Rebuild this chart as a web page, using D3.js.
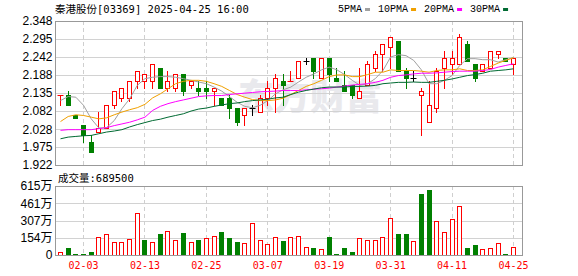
<!DOCTYPE html>
<html>
<head>
<meta charset="utf-8">
<script src="https://cdn.jsdelivr.net/npm/d3@7"></script>
<style>
body { margin: 0; background: #fff; }
svg { display: block; }
.grid { stroke: #d2d2d2; shape-rendering: crispEdges; }
.vgrid { stroke: #cfcfcf; stroke-dasharray: 4,3; shape-rendering: crispEdges; }
.frame { fill: none; stroke: #999; shape-rendering: crispEdges; }
.ma { fill: none; stroke-width: 1; }
</style>
</head>
<body>
<div class="container"></div>
<script>
var dates = ['01-24','01-27','01-28','02-03','02-04','02-05','02-06','02-07','02-10','02-11',
	'02-12','02-13','02-14','02-17','02-18','02-19','02-20','02-21','02-24','02-25',
	'02-26','02-27','02-28','03-03','03-04','03-05','03-06','03-07','03-10','03-11',
	'03-12','03-13','03-14','03-17','03-18','03-19','03-20','03-21','03-24','03-25',
	'03-26','03-27','03-28','03-31','04-01','04-02','04-03','04-07','04-08','04-09',
	'04-10','04-11','04-14','04-15','04-16','04-17','04-22','04-23','04-24','04-25'];

var open = [2.13,2.13,2.07,2.04,1.99,2.02,2.03,2.10,2.12,2.12,
	2.17,2.17,2.17,2.21,2.15,2.15,2.19,2.16,2.15,2.15,
	2.14,2.12,2.12,2.09,2.07,2.09,2.08,2.12,2.15,2.17,
	2.17,2.18,2.23,2.24,2.18,2.24,2.18,2.16,2.16,2.12,
	2.16,2.21,2.25,2.27,2.29,2.20,2.18,2.13,2.05,2.09,
	2.21,2.22,2.22,2.28,2.22,2.20,2.21,2.25,2.24,2.22];
var high = [2.13,2.14,2.07,2.04,2.01,2.08,2.10,2.14,2.15,2.17,
	2.20,2.19,2.22,2.21,2.20,2.19,2.19,2.17,2.17,2.17,
	2.15,2.12,2.13,2.09,2.09,2.10,2.13,2.17,2.19,2.19,
	2.20,2.23,2.24,2.24,2.24,2.24,2.21,2.20,2.16,2.21,
	2.23,2.26,2.28,2.30,2.29,2.21,2.20,2.15,2.17,2.21,
	2.26,2.26,2.31,2.29,2.22,2.22,2.26,2.26,2.24,2.24];
var low = [2.10,2.10,2.06,1.99,1.96,2.02,2.03,2.09,2.11,2.11,
	2.15,2.15,2.15,2.15,2.14,2.14,2.13,2.15,2.13,2.12,
	2.10,2.10,2.06,2.04,2.04,2.07,2.08,2.10,2.08,2.10,
	2.17,2.18,2.22,2.18,2.18,2.17,2.17,2.14,2.12,2.12,
	2.16,2.20,2.20,2.21,2.20,2.15,2.17,2.01,2.05,2.08,
	2.15,2.19,2.22,2.23,2.17,2.20,2.21,2.24,2.23,2.19];
var close = [2.13,2.10,2.06,2.01,1.96,2.03,2.10,2.14,2.15,2.17,
	2.20,2.19,2.22,2.15,2.17,2.19,2.14,2.17,2.14,2.14,
	2.15,2.10,2.09,2.05,2.09,2.09,2.12,2.15,2.18,2.16,
	2.17,2.23,2.23,2.20,2.24,2.19,2.17,2.14,2.13,2.14,
	2.22,2.25,2.28,2.30,2.20,2.18,2.18,2.14,2.10,2.20,
	2.24,2.24,2.30,2.23,2.18,2.22,2.26,2.26,2.23,2.24];
var volume = [280000,630000,90000,90000,300000,1590000,1860000,1170000,1170000,1410000,
	3780000,1350000,1170000,1890000,2130000,1350000,1980000,1170000,1350000,1530000,
	1710000,2070000,1530000,1170000,1080000,2880000,1350000,990000,1620000,1260000,
	1620000,1710000,720000,630000,540000,1620000,90000,630000,270000,1500000,
	1350000,1350000,1620000,3300000,1890000,1890000,1260000,5400000,5760000,3060000,
	2070000,3240000,4410000,630000,900000,540000,630000,1080000,90000,689500];

var ma5 = [2.114,2.126,2.124,2.100,2.060,2.033,2.034,2.055,2.090,2.119,
	2.159,2.179,2.183,2.185,2.185,2.183,2.179,2.174,2.169,2.164,
	2.154,2.142,2.126,2.109,2.097,2.093,2.100,2.114,2.134,2.146,
	2.154,2.169,2.183,2.193,2.205,2.213,2.205,2.191,2.174,2.159,
	2.164,2.179,2.203,2.243,2.250,2.247,2.233,2.205,2.164,2.164,
	2.174,2.188,2.218,2.238,2.238,2.235,2.235,2.228,2.235,2.241];
var ma10 = [2.052,2.067,2.072,2.070,2.065,2.060,2.063,2.072,2.080,2.087,
	2.093,2.103,2.122,2.134,2.149,2.164,2.171,2.174,2.174,2.171,
	2.164,2.156,2.144,2.132,2.124,2.117,2.114,2.114,2.116,2.121,
	2.132,2.144,2.156,2.164,2.174,2.185,2.190,2.190,2.185,2.185,
	2.191,2.198,2.198,2.205,2.203,2.203,2.203,2.201,2.198,2.203,
	2.205,2.205,2.208,2.203,2.203,2.205,2.215,2.225,2.233,2.241];
var ma20 = [2.026,2.028,2.028,2.028,2.028,2.031,2.034,2.040,2.045,2.050,
	2.057,2.065,2.085,2.097,2.105,2.111,2.116,2.121,2.126,2.128,
	2.129,2.129,2.132,2.134,2.136,2.138,2.140,2.141,2.142,2.144,
	2.144,2.144,2.146,2.148,2.149,2.151,2.154,2.157,2.160,2.162,
	2.164,2.168,2.174,2.183,2.188,2.190,2.193,2.195,2.195,2.196,
	2.198,2.200,2.201,2.201,2.201,2.203,2.206,2.213,2.218,2.223];
var ma30 = [2.001,2.006,2.008,2.010,2.011,2.016,2.021,2.024,2.028,2.036,
	2.043,2.049,2.055,2.059,2.065,2.070,2.075,2.083,2.089,2.092,
	2.097,2.101,2.105,2.107,2.111,2.114,2.116,2.118,2.122,2.124,
	2.132,2.139,2.144,2.148,2.152,2.154,2.154,2.154,2.156,2.156,
	2.157,2.159,2.164,2.166,2.168,2.168,2.169,2.168,2.168,2.171,
	2.174,2.178,2.183,2.188,2.191,2.195,2.201,2.203,2.205,2.208];

var priceTicks = [2.348, 2.295, 2.242, 2.188, 2.135, 2.082, 2.028, 1.975, 1.922];
var volumeTicks = [0, 1540000, 3070000, 4610000, 6150000];
var dateTicks = ['02-03','02-13','02-25','03-07','03-19','03-31','04-11','04-25'];
var maNames = ['5PMA', '10PMA', '20PMA', '30PMA'];
var stockName = '秦港股份';
var stockInfo = '[03369] 2025-04-25 16:00';

const WIDTH = 578;
const HEIGHT = 276;
const LEFT = 55;
const RIGHT = 522;
const PRICE_TOP = 21;
const PRICE_BOTTOM = 165;
const VOL_TOP = 186;
const VOL_BOTTOM = 255;

var RED = '#ff0000';
var GREEN = '#008000';
var maColors = ['#a0a0a0', '#f0a000', '#ff00ff', '#006a32'];

var svg = d3.select('.container').append('svg')
	.attr('width', WIDTH)
	.attr('height', HEIGHT);

var xScale = d3.scalePoint().domain(dates).range([60, 513]);
var yScale = d3.scaleLinear().domain([1.922, 2.348]).range([PRICE_BOTTOM, PRICE_TOP]);
var vScale = d3.scaleLinear().domain([0, 6150000]).range([VOL_BOTTOM, VOL_TOP]);

var snap = function(v){ return Math.round(v) + 0.5; };
var cx = function(i){ return snap(xScale(dates[i])); };

// watermark
svg.append('text')
	.attr('x', 238).attr('y', 110)
	.attr('font-family', 'Noto Sans CJK SC')
	.attr('font-weight', 900)
	.attr('font-size', 36)
	.attr('fill', '#e9e9ed')
	.text('东方财富');

// grid
var grid = svg.append('g');
priceTicks.forEach(function(t){
	grid.append('line').classed('grid', true)
		.attr('x1', LEFT).attr('x2', RIGHT)
		.attr('y1', snap(yScale(t))).attr('y2', snap(yScale(t)));
});
volumeTicks.forEach(function(t){
	grid.append('line').classed('grid', true)
		.attr('x1', LEFT).attr('x2', RIGHT)
		.attr('y1', snap(vScale(t))).attr('y2', snap(vScale(t)));
});
dateTicks.forEach(function(d){
	var x = snap(xScale(d));
	grid.append('line').classed('vgrid', true)
		.attr('x1', x).attr('x2', x).attr('y1', PRICE_TOP).attr('y2', PRICE_BOTTOM);
	grid.append('line').classed('vgrid', true)
		.attr('x1', x).attr('x2', x).attr('y1', VOL_TOP).attr('y2', VOL_BOTTOM);
});

// axes (labels only)
var yAxis = svg.append('g')
	.attr('transform', 'translate(' + LEFT + ',0)')
	.call(d3.axisLeft(yScale).tickValues(priceTicks).tickSize(0).tickPadding(2.5)
		.tickFormat(d3.format('.3f')));
var vAxis = svg.append('g')
	.attr('transform', 'translate(' + LEFT + ',0)')
	.call(d3.axisLeft(vScale).tickValues(volumeTicks).tickSize(0).tickPadding(2.5)
		.tickFormat(function(v){ return v ? Math.round(v / 10000) + '万' : '0'; }));
[yAxis, vAxis].forEach(function(a){
	a.select('.domain').remove();
	a.selectAll('text')
		.attr('font-family', 'Liberation Sans, Noto Sans CJK SC')
		.attr('font-size', 12)
		.attr('fill', '#000');
});
var xAxis = svg.append('g')
	.attr('transform', 'translate(0,' + VOL_BOTTOM + ')')
	.call(d3.axisBottom(xScale).tickValues(dateTicks).tickSize(0).tickPadding(7));
xAxis.select('.domain').remove();
xAxis.selectAll('text')
	.attr('font-family', 'DejaVu Sans Mono')
	.attr('font-size', 10)
	.attr('fill', RED);

// candles
var candleColor = function(i){
	if (close[i] > open[i]) return RED;
	if (close[i] < open[i]) return GREEN;
	if (i === 0 || close[i] > close[i - 1]) return RED;
	if (close[i] < close[i - 1]) return GREEN;
	return '#000';
};
var candles = svg.append('g').selectAll('g').data(d3.range(dates.length))
	.enter().append('g');
candles.append('line')
	.attr('x1', cx).attr('x2', cx)
	.attr('y1', function(i){ return Math.round(yScale(high[i])); })
	.attr('y2', function(i){ return Math.round(yScale(low[i])) + 1; })
	.attr('stroke', candleColor);
candles.each(function(i){
	var g = d3.select(this);
	var c = candleColor(i);
	var top = snap(yScale(Math.max(open[i], close[i])));
	var bot = snap(yScale(Math.min(open[i], close[i])));
	if (top === bot) {
		g.append('line')
			.attr('x1', cx(i) - 3).attr('x2', cx(i) + 3)
			.attr('y1', top).attr('y2', top)
			.attr('stroke', c);
	} else {
		g.append('rect')
			.attr('x', cx(i) - 2).attr('y', top)
			.attr('width', 4).attr('height', bot - top)
			.attr('fill', c === GREEN ? GREEN : '#fff')
			.attr('stroke', c);
	}
});

// moving averages
svg.append('clipPath').attr('id', 'plot-clip')
	.append('rect').attr('x', LEFT).attr('y', PRICE_TOP)
	.attr('width', RIGHT - LEFT).attr('height', PRICE_BOTTOM - PRICE_TOP);
var line = d3.line()
	.x(function(v, i){ return xScale(dates[i]) + 0.5; })
	.y(function(v){ return yScale(v) + 0.5; });
var maGroup = svg.append('g').attr('clip-path', 'url(#plot-clip)');
[ma5, ma10, ma20, ma30].forEach(function(ma, k){
	maGroup.append('path').classed('ma', true)
		.attr('d', line(ma))
		.attr('stroke', maColors[k]);
});

// volume
var volColor = function(i){
	return (i === 0 || close[i] >= close[i - 1]) ? RED : GREEN;
};
svg.append('g').selectAll('rect').data(d3.range(dates.length))
	.enter().append('rect')
	.attr('x', function(i){ return cx(i) - 2; })
	.attr('y', function(i){ return snap(vScale(volume[i])); })
	.attr('width', 4)
	.attr('height', function(i){ return snap(vScale(0)) - snap(vScale(volume[i])); })
	.attr('fill', function(i){ return volColor(i) === GREEN ? GREEN : '#fff'; })
	.attr('stroke', volColor)
	.attr('shape-rendering', 'crispEdges');

// frames
svg.append('rect').classed('frame', true)
	.attr('x', LEFT + 0.5).attr('y', PRICE_TOP + 0.5)
	.attr('width', RIGHT - LEFT).attr('height', PRICE_BOTTOM - PRICE_TOP);
svg.append('rect').classed('frame', true)
	.attr('x', LEFT + 0.5).attr('y', VOL_TOP + 0.5)
	.attr('width', RIGHT - LEFT).attr('height', VOL_BOTTOM - VOL_TOP);

// title and labels
var addLabel = function(x, y, cjk, rest){
	var t = svg.append('text')
		.attr('x', x).attr('y', y)
		.attr('font-size', 10.5)
		.attr('fill', '#000');
	t.append('tspan').attr('font-family', 'Noto Sans CJK SC').text(cjk);
	t.append('tspan').attr('font-family', 'DejaVu Sans Mono').text(rest);
};
addLabel(55, 12.5, stockName, stockInfo);
addLabel(58, 182, '成交量', ':' + volume[volume.length - 1]);

// legend
var lx = 338;
maNames.forEach(function(name, k){
	var t = svg.append('text')
		.attr('x', lx).attr('y', 12)
		.attr('font-family', 'Liberation Mono')
		.attr('font-size', 10)
		.attr('fill', '#000')
		.text(name);
	var w = t.node().getComputedTextLength();
	svg.append('rect')
		.attr('x', lx + w + 3).attr('y', 8)
		.attr('width', 5).attr('height', 3)
		.attr('fill', maColors[k]);
	lx += w + 3 + 5 + 8;
});
</script>
</body>
</html>
